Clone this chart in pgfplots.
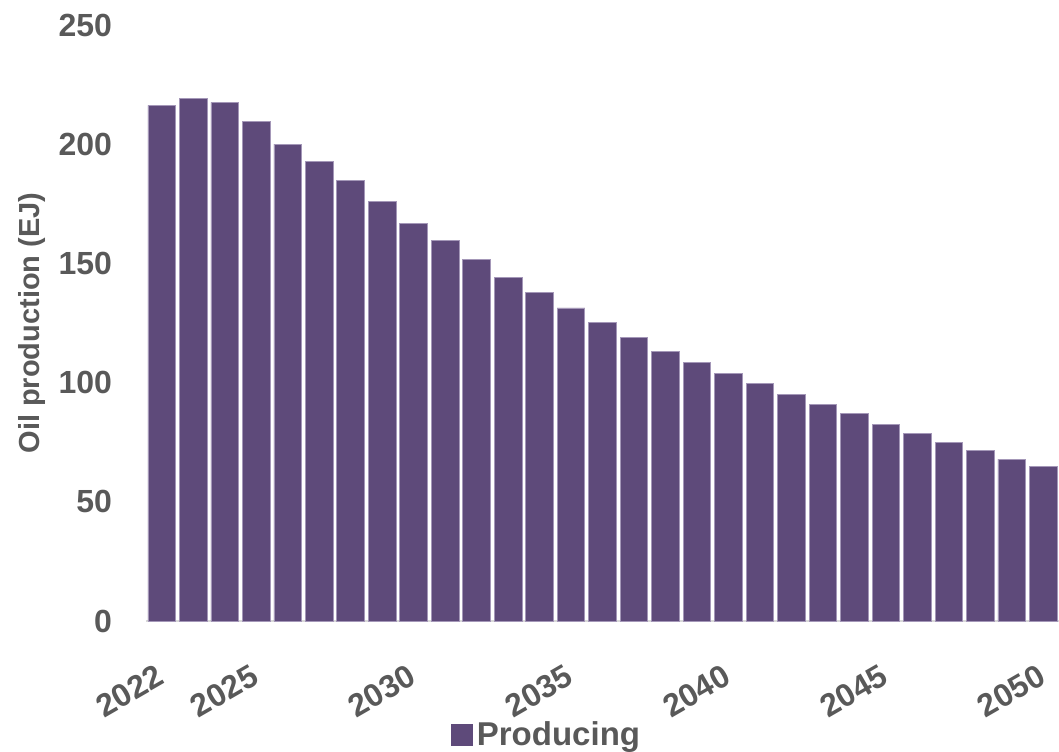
\documentclass[border=0pt]{standalone}
\usepackage{pgfplots}
\pgfplotsset{compat=1.18}
\usepackage{fontspec}
\setmainfont{Liberation Sans}

\definecolor{barpurple}{HTML}{5E4A7A}
\definecolor{baredge}{HTML}{A497B8}
\definecolor{labelgray}{HTML}{595959}
\definecolor{axisgray}{HTML}{D9D9D9}

\begin{document}
\begin{tikzpicture}[font=\bfseries]
% fixed page frame around the axis
\path[use as bounding box] (-73pt,-65pt) rectangle (456.5pt,310.5pt);
\begin{axis}[
  at={(0pt,0pt)}, anchor=south west,
  scale only axis,
  width=456.5pt, height=298pt,
  xmin=2021.5, xmax=2050.5,
  ymin=0, ymax=250,
  enlarge x limits=false,
  ybar, bar width=13.8pt,
  axis lines*=left,
  x axis line style={draw=axisgray, line width=1pt},
  y axis line style={draw=none},
  major tick length=0pt,
  xtick={2022,2025,2030,2035,2040,2045,2050},
  ytick={0,50,100,150,200,250},
  /pgf/number format/set thousands separator={},
  /pgf/number format/assume math mode=true,
  ticklabel style={font=\fontsize{16}{18}\selectfont\bfseries, text=labelgray},
  yticklabel style={anchor=east, xshift=-13.5pt},
  xticklabel style={rotate=30, anchor=north east, yshift=-13pt, xshift=-10pt},
  ylabel={Oil production (EJ)},
  ylabel style={at={(axis description cs:-0.1249,0.5)}, anchor=center,
    font=\fontsize{14.5}{16}\selectfont\bfseries, text=labelgray},
  legend style={at={(axis description cs:0.44,0)}, anchor=center, yshift=-57pt,
    draw=none, fill=none, font=\fontsize{16.5}{18}\selectfont\bfseries,
    text=labelgray, inner sep=0pt},
  legend image code/.code={\fill[barpurple] (0pt,-5.2pt) rectangle (10.4pt,5.2pt);},
  legend cell align=left,
]
\addplot[fill=barpurple, draw=baredge, line width=0.35pt] coordinates {
  (2022,216.3) (2023,219.1) (2024,217.5) (2025,209.4) (2026,200.0)
  (2027,192.8) (2028,184.7) (2029,176.0) (2030,166.8) (2031,159.6)
  (2032,151.7) (2033,144.2) (2034,137.9) (2035,131.3) (2036,125.3)
  (2037,118.9) (2038,113.2) (2039,108.4) (2040,103.9) (2041,99.5)
  (2042,95.1)  (2043,90.8)  (2044,87.0)  (2045,82.6)  (2046,78.7)
  (2047,75.0)  (2048,71.5)  (2049,67.9)  (2050,64.7)
};
\addlegendentry{Producing}
\end{axis}
\end{tikzpicture}
\end{document}
